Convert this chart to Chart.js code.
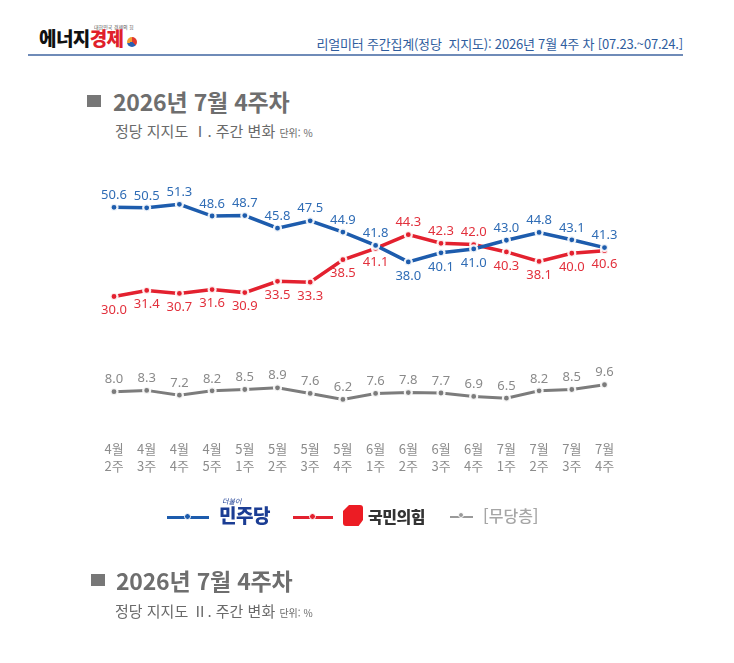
<!DOCTYPE html>
<html lang="ko">
<head>
<meta charset="utf-8">
<script src="https://cdn.jsdelivr.net/npm/chart.js@4"></script>
<style>
  body { margin: 0; background: #fff; font-family: "Noto Sans CJK KR", "Noto Sans", sans-serif; }
  #page { position: relative; width: 734px; height: 663px; overflow: hidden; }
  #chartBox { position: absolute; left: 0; top: 0; width: 734px; height: 663px; }
  .abs { position: absolute; white-space: nowrap; }
  .logo { left: 39px; top: 24px; font-size: 19px; font-weight: 900; color: #111; letter-spacing: -0.6px; }
  .logo span { color: #e0202a; }
  .logoSmall { left: 94px; top: 23px; font-size: 5px; color: #555; }
  .logoMark { left: 127px; top: 37px; width: 10px; height: 10px; border-radius: 50%;
    background: conic-gradient(#e23a2f 0 35%, #2a5fb0 35% 70%, #f0a030 70% 100%); }
  .headText { right: 51px; top: 34px; font-size: 13px; color: #2f5d9e; letter-spacing: -0.2px; }
  .headLine { left: 28px; top: 54px; width: 655px; height: 2px; background: #6f8bb8; }
  .sq { width: 14px; height: 12px; background: #777; }
  .title { font-size: 23px; font-weight: 700; color: #6e6e6e; letter-spacing: -0.2px; }
  .sub { font-size: 15px; color: #6a6a6a; }
  .sub small { font-size: 10px; }
  .legLine { height: 3px; }
  .legDot { width: 5px; height: 5px; border-radius: 50%; border: 1.5px solid #fff; }
</style>
</head>
<body>
<div id="page">
  <div class="abs logoSmall">대한민국 경제의 힘</div>
  <div class="abs logo">에너지<span>경제</span></div>
  <div class="abs logoMark"></div>
  <div class="abs headText">리얼미터 주간집계(정당&nbsp; 지지도): 2026년 7월 4주 차 [07.23.~07.24.]</div>
  <div class="abs headLine"></div>

  <div class="abs sq" style="left:87px; top:95px;"></div>
  <div class="abs title" style="left:113px; top:84px;">2026년 7월 4주차</div>
  <div class="abs sub" style="left:115px; top:120px;">정당 지지도 Ⅰ. 주간 변화 <small>단위: %</small></div>

  <div id="chartBox"><canvas id="pollChart"></canvas></div>

  <!-- legend -->
  <div class="abs legLine" style="left:167px; top:516px; width:42px; background:#1d5cad;"></div>
  <div class="abs legDot" style="left:184px; top:513px; background:#1d5cad;"></div>
  <div class="abs" style="left:222px; top:496px; font-size:7px; color:#1b3d94; font-style:italic;">더불어</div>
  <div class="abs" style="left:219px; top:501px; font-size:19px; font-weight:900; color:#1b3d94; letter-spacing:-0.5px;">민주당</div>

  <div class="abs legLine" style="left:293px; top:516px; width:40px; background:#e3212f;"></div>
  <div class="abs legDot" style="left:309px; top:513px; background:#e3212f;"></div>
  <div class="abs" style="left:343px; top:505px; width:20px; height:21px; background:#ec1c24; border-radius:3px;
       clip-path: polygon(30% 0, 100% 0, 100% 72%, 78% 100%, 0 100%, 0 28%);"></div>
  <div class="abs" style="left:368px; top:504px; font-size:16px; font-weight:900; color:#333; letter-spacing:-0.5px;">국민의힘</div>

  <div class="abs legLine" style="left:450px; top:516px; width:23px; height:2px; background:#9a9a9a;"></div>
  <div class="abs legDot" style="left:458px; top:512px; width:4px; height:4px; background:#9a9a9a;"></div>
  <div class="abs" style="left:483px; top:503px; font-size:16px; font-weight:500; color:#a6a6a6;">[무당층]</div>

  <div class="abs sq" style="left:91px; top:574px;"></div>
  <div class="abs title" style="left:116px; top:563px;">2026년 7월 4주차</div>
  <div class="abs sub" style="left:115px; top:600px;">정당 지지도 Ⅱ. 주간 변화 <small>단위: %</small></div>
</div>

<script>
const weeks = [
  ["4월", "2주"], ["4월", "3주"], ["4월", "4주"], ["4월", "5주"],
  ["5월", "1주"], ["5월", "2주"], ["5월", "3주"], ["5월", "4주"],
  ["6월", "1주"], ["6월", "2주"], ["6월", "3주"], ["6월", "4주"],
  ["7월", "1주"], ["7월", "2주"], ["7월", "3주"], ["7월", "4주"]
];
const minjoo = [50.6, 50.5, 51.3, 48.6, 48.7, 45.8, 47.5, 44.9, 41.8, 38.0, 40.1, 41.0, 43.0, 44.8, 43.1, 41.3];
const ppp = [30.0, 31.4, 30.7, 31.6, 30.9, 33.5, 33.3, 38.5, 41.1, 44.3, 42.3, 42.0, 40.3, 38.1, 40.0, 40.6];
const nonParty = [8.0, 8.3, 7.2, 8.2, 8.5, 8.9, 7.6, 6.2, 7.6, 7.8, 7.7, 6.9, 6.5, 8.2, 8.5, 9.6];

const labelColors = ["#2f6cb5", "#e2303c", "#8a8a8a"];

// value labels: above the point, except where a party line sits under the other one
const valueLabels = {
  id: "valueLabels",
  afterDatasetsDraw(chart) {
    const ctx = chart.ctx;
    ctx.save();
    ctx.font = "13px 'Noto Sans', sans-serif";
    ctx.textAlign = "center";
    ctx.textBaseline = "middle";
    chart.data.datasets.forEach((ds, i) => {
      chart.getDatasetMeta(i).data.forEach((pt, j) => {
        let below = false;
        if (i === 0) below = minjoo[j] < ppp[j];
        if (i === 1) below = ppp[j] < minjoo[j];
        ctx.fillStyle = labelColors[i];
        ctx.fillText(ds.data[j].toFixed(1), pt.x, pt.y + (below ? 14 : -12));
      });
    });
    ctx.restore();
  }
};

function line(label, data, color, width) {
  return {
    label: label,
    data: data,
    borderColor: color,
    backgroundColor: color,
    borderWidth: width,
    tension: 0,
    pointRadius: 3.5,
    pointBackgroundColor: color,
    pointBorderColor: "rgba(255,255,255,0.9)",
    pointBorderWidth: 2.2
  };
}

let pollCtx = document.getElementById("pollChart").getContext("2d");
let pollChart = new Chart(pollCtx, {
  type: "line",
  data: {
    labels: weeks,
    datasets: [
      line("민주당", minjoo, "#1d5cad", 3.5),
      line("국민의힘", ppp, "#e3212f", 3.5),
      line("무당층", nonParty, "#7c7c7c", 3)
    ]
  },
  options: {
    responsive: true,
    maintainAspectRatio: false,
    animation: false,
    layout: { padding: { left: 114, right: 129.5, top: 166.7, bottom: 173.7 } },
    plugins: { legend: { display: false }, tooltip: { enabled: false } },
    scales: {
      x: {
        offset: false,
        grid: { display: false, drawTicks: false },
        border: { display: false },
        ticks: {
          padding: 14.6,
          autoSkip: false,
          maxRotation: 0,
          color: "#8c8c8c",
          font: { family: "'Noto Sans CJK KR', sans-serif", size: 13, lineHeight: 1.3 }
        }
      },
      y: { display: false, min: 0, max: 60 }
    }
  },
  plugins: [valueLabels]
});
</script>
</body>
</html>
